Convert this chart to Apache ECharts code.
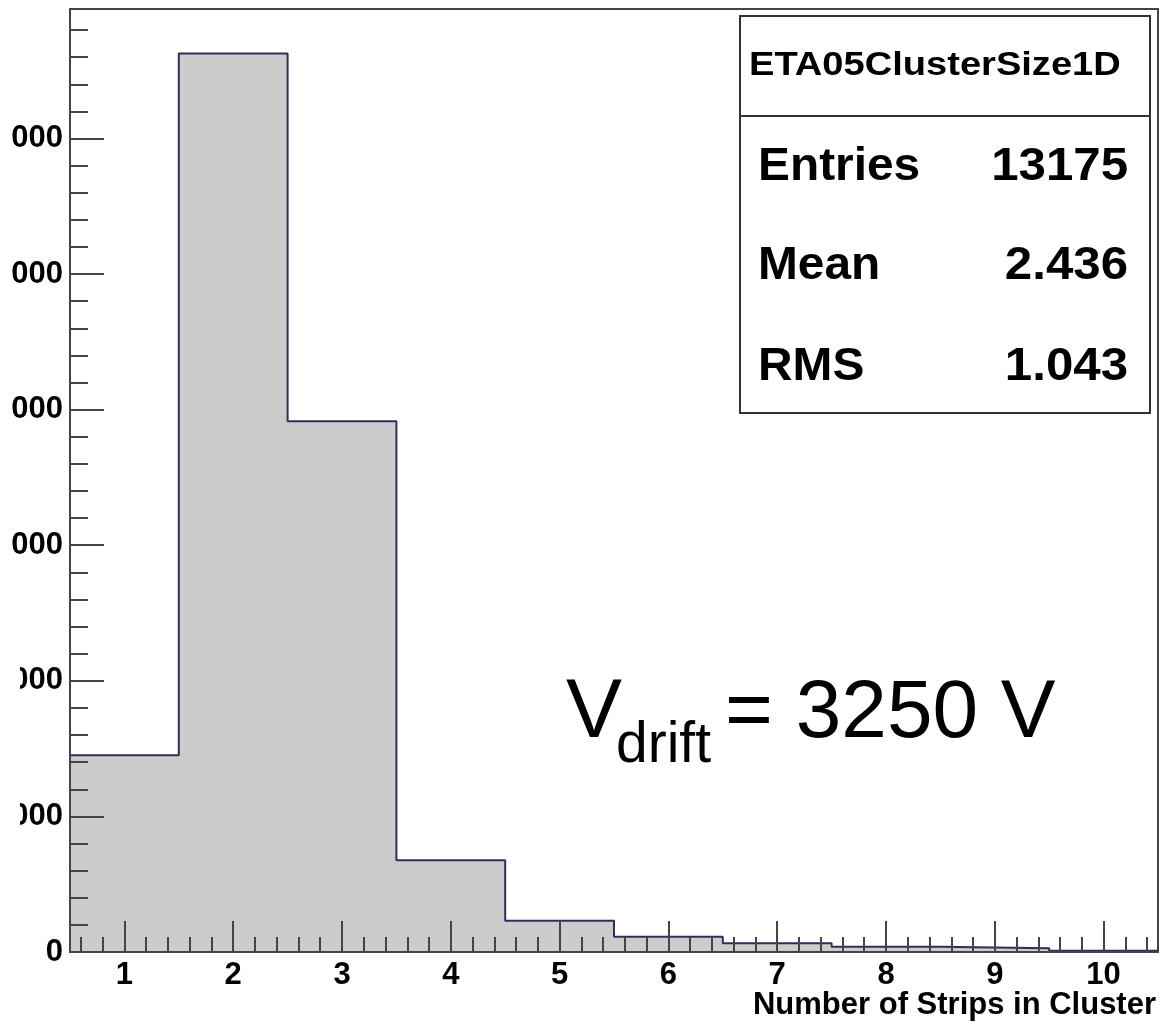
<!DOCTYPE html>
<html><head><meta charset="utf-8">
<script src="https://cdn.jsdelivr.net/npm/echarts@6/dist/echarts.min.js"></script>
<style>html,body{margin:0;padding:0;background:#fff}#c{width:1163px;height:1031px}</style>
</head><body><div id="c"></div><script>
// ---- data ----
const binCenters = [1, 2, 3, 4, 5, 6, 7, 8, 9, 10];
const counts = [1452, 6626, 3914, 676, 231, 113, 64, 39, 27, 10];
const xTickLabels = [1, 2, 3, 4, 5, 6, 7, 8, 9, 10];
const yTickLabels = [0, 1000, 2000, 3000, 4000, 5000, 6000];
const statsTitle = 'ETA05ClusterSize1D';
const statsNames = ['Entries', 'Mean', 'RMS'];
const statsValues = ['13175', '2.436', '1.043'];
const xTitle = 'Number of Strips in Cluster';

const FONT = '"Liberation Sans", Arial, Helvetica, sans-serif';
const X_MIN = 0.5, X_MAX = 10.5, Y_MAX = 6955;

// minor tick positions (tick marks only)
const xMinor = [];
for (let k = 3; k <= 52; k++) { if (k % 5 !== 0) xMinor.push(k / 5); }
const yMinor = [];
for (let k = 1; k <= 34; k++) { if (k % 5 !== 0) yMinor.push(k * 200); }

// histogram outline as step points (bin low edges + final high edge)
const stepPts = binCenters.map((c, i) => [c - 0.5, counts[i]]);
stepPts.push([binCenters[binCenters.length - 1] + 0.5, counts[counts.length - 1]]);

const chart = echarts.init(document.getElementById('c'), null, {renderer: 'canvas'});
const axisLineStyle = {color: '#444', width: 2};
const tickStyle = {color: '#444', width: 2};
const plain = v => String(v);

chart.setOption({
  animation: false,
  backgroundColor: '#fff',
  grid: {left: 70, right: 5, top: 9, bottom: 79, containLabel: false, outerBoundsMode: 'none',
         show: true, borderColor: '#444', borderWidth: 2, backgroundColor: 'transparent'},
  xAxis: [{
    type: 'value', min: X_MIN, max: X_MAX, position: 'bottom', z: 10,
    axisLine: {show: true, onZero: false, lineStyle: axisLineStyle},
    axisTick: {show: true, inside: true, length: 31, lineStyle: tickStyle, customValues: xTickLabels},
    axisLabel: {show: true, customValues: xTickLabels, formatter: plain, margin: 8, fontFamily: FONT, fontWeight: 'bold', fontSize: 31, lineHeight: 31, color: '#000'},
    splitLine: {show: false}
  }, {
    type: 'value', min: X_MIN, max: X_MAX, position: 'bottom', z: 10,
    axisLine: {show: false},
    axisTick: {show: true, inside: true, length: 15, lineStyle: tickStyle, customValues: xMinor},
    axisLabel: {show: false},
    splitLine: {show: false}
  }],
  yAxis: [{
    type: 'value', min: 0, max: Y_MAX, position: 'left', z: 10,
    axisLine: {show: true, onZero: false, lineStyle: axisLineStyle},
    axisTick: {show: true, inside: true, length: 34, lineStyle: tickStyle, customValues: yTickLabels},
    axisLabel: {show: true, customValues: yTickLabels, formatter: plain, margin: 7, fontFamily: FONT, fontWeight: 'bold', fontSize: 31, color: '#000'},
    splitLine: {show: false}
  }, {
    type: 'value', min: 0, max: Y_MAX, position: 'left', z: 10,
    axisLine: {show: false},
    axisTick: {show: true, inside: true, length: 18, lineStyle: tickStyle, customValues: yMinor},
    axisLabel: {show: false},
    splitLine: {show: false}
  }],
  series: [{
    name: statsTitle,
    type: 'line',
    xAxisIndex: 0, yAxisIndex: 0,
    step: 'end',
    data: stepPts,
    symbol: 'none',
    lineStyle: {color: '#2e2e5a', width: 2},
    areaStyle: {color: '#cccccc', opacity: 1},
    z: 1
  }],
  graphic: [
    // the reference picture is cropped at its left edge: leading digits of the y labels are cut off
    {type: 'rect', z: 30, silent: true, shape: {x: 0, y: 100, width: 12, height: 480}, style: {fill: '#fff'}},
    {type: 'rect', z: 30, silent: true, shape: {x: 0, y: 640, width: 20, height: 210}, style: {fill: '#fff'}},
    {type: 'rect', z: 20, shape: {x: 740, y: 16, width: 410, height: 397}, style: {fill: '#fff', stroke: '#333', lineWidth: 2}},
    {type: 'line', z: 21, shape: {x1: 740, y1: 116, x2: 1150, y2: 116}, style: {stroke: '#333', lineWidth: 2}},
    {type: 'text', z: 22, x: 749, y: 66, scaleX: 1.12, style: {text: statsTitle, font: 'bold 34px ' + FONT, fill: '#000', align: 'left', verticalAlign: 'middle'}},
    {type: 'text', z: 22, x: 758, y: 167, scaleX: 1.04, style: {text: statsNames[0], font: 'bold 46px ' + FONT, fill: '#000', align: 'left', verticalAlign: 'middle'}},
    {type: 'text', z: 22, x: 758, y: 266, scaleX: 1.04, style: {text: statsNames[1], font: 'bold 46px ' + FONT, fill: '#000', align: 'left', verticalAlign: 'middle'}},
    {type: 'text', z: 22, x: 758, y: 367, scaleX: 1.04, style: {text: statsNames[2], font: 'bold 46px ' + FONT, fill: '#000', align: 'left', verticalAlign: 'middle'}},
    {type: 'text', z: 22, x: 1128, y: 167, scaleX: 1.07, style: {text: statsValues[0], font: 'bold 46px ' + FONT, fill: '#000', align: 'right', verticalAlign: 'middle'}},
    {type: 'text', z: 22, x: 1128, y: 266, scaleX: 1.07, style: {text: statsValues[1], font: 'bold 46px ' + FONT, fill: '#000', align: 'right', verticalAlign: 'middle'}},
    {type: 'text', z: 22, x: 1128, y: 367, scaleX: 1.07, style: {text: statsValues[2], font: 'bold 46px ' + FONT, fill: '#000', align: 'right', verticalAlign: 'middle'}},
    {type: 'text', z: 22, x: 566, y: 714, style: {text: 'V', font: '84px ' + FONT, fill: '#000', align: 'left', verticalAlign: 'middle'}},
    {type: 'text', z: 22, x: 616, y: 746, style: {text: 'drift', font: '57px ' + FONT, fill: '#000', align: 'left', verticalAlign: 'middle'}},
    {type: 'text', z: 22, x: 725, y: 714, style: {text: '= 3250 V', font: '82px ' + FONT, fill: '#000', align: 'left', verticalAlign: 'middle'}},
    {type: 'text', z: 22, x: 1156, y: 1005, style: {text: xTitle, font: 'bold 31px ' + FONT, fill: '#000', align: 'right', verticalAlign: 'middle'}}
  ]
});
</script></body></html>
